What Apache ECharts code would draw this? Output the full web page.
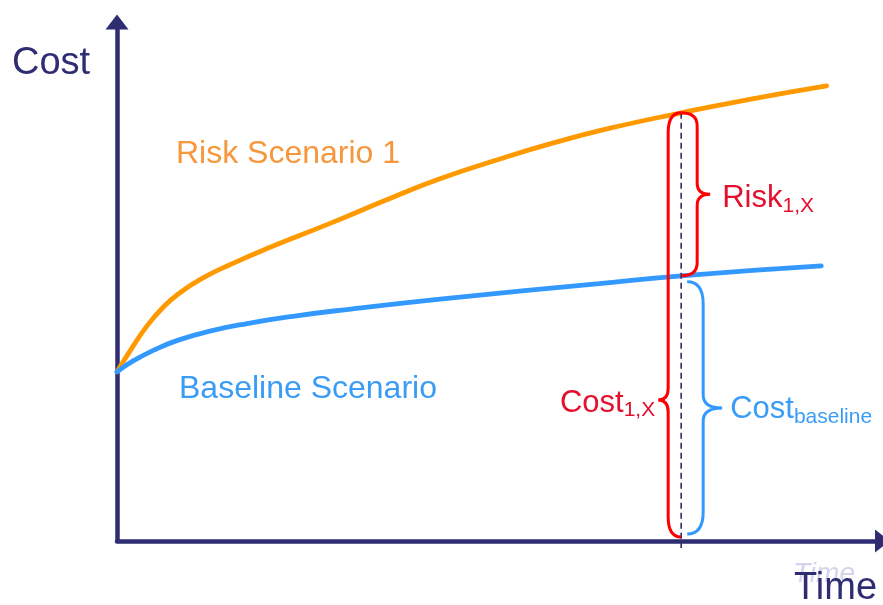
<!DOCTYPE html>
<html><head><meta charset="utf-8">
<script src="https://cdn.jsdelivr.net/npm/echarts@6/dist/echarts.min.js"></script>
<style>html,body{margin:0;padding:0;background:#fff}#c{width:883px;height:605px}</style>
</head><body><div id="c"></div>
<script>
// ---- data (time units 0..100, cost units 0..100) ----
const riskTime = [0, 2, 4, 6, 8, 11, 15, 20, 28, 35, 42, 50, 57, 64, 73.7, 83, 92.7];
const riskCost = [32.6, 37.3, 41.6, 45.0, 47.6, 50.5, 53.4, 56.6, 61.3, 65.6, 69.7, 73.6, 76.7, 79.4, 82.5, 85.2, 87.7];
const baseTime = [0, 2, 5, 8, 12, 17, 23, 30, 43.5, 63, 73.7, 92];
const baseCost = [32.6, 34.6, 36.9, 38.7, 40.4, 41.9, 43.3, 44.6, 46.8, 49.6, 51.1, 53.0];
const markTime = 73.7;
const riskAtMark = 82.5;
const baselineAtMark = 51.1;
const seriesNames = ['Risk Scenario 1', 'Baseline Scenario'];
const axisNames = ['Time', 'Cost'];

// ---- styles ----
const NAVY = '#2e2d72', ORANGE = '#ff9900', BLUE = '#3399ff';
const ORANGE_TXT = '#f7963a', BLUE_TXT = '#3a9cf5', RED = '#ff0000', RED_TXT = '#e5102e';
const FONT = '"Liberation Sans", Arial, sans-serif';

function pairs(xs, ys) { return xs.map((x, i) => [x, ys[i]]); }

function bracePath(xBase, yTop, yBot, dir, tipOff, stemOff, pointOff, yPoint, rEnd, rMid) {
  const xt = xBase + dir * tipOff, xs = xBase + dir * stemOff, xp = xBase + dir * pointOff;
  return `M${xt},${yTop} Q${xs},${yTop} ${xs},${yTop + rEnd} L${xs},${yPoint - rMid} ` +
    `Q${xs},${yPoint} ${xp},${yPoint} Q${xs},${yPoint} ${xs},${yPoint + rMid} ` +
    `L${xs},${yBot - rEnd} Q${xs},${yBot} ${xt},${yBot}`;
}

function subText(main, sub, color, x, y, align) {
  return {
    type: 'text', x: x, y: y,
    style: {
      text: '{a|' + main + '}{b|' + sub + '}',
      align: align, verticalAlign: 'middle', textAlign: align, textVerticalAlign: 'middle',
      fill: color,
      rich: {
        a: { fontSize: 31, fontFamily: FONT, lineHeight: 36, verticalAlign: 'middle', fill: color, color: color },
        b: { fontSize: 21, fontFamily: FONT, lineHeight: 36, verticalAlign: 'bottom', fill: color, color: color }
      }
    }
  };
}

function renderAnnotations(params, api) {
  const pTop = api.coord([markTime, riskAtMark]);
  const pMid = api.coord([markTime, baselineAtMark]);
  const pBot = api.coord([markTime, 0]);
  const x = pTop[0], yR = pTop[1], yB = pMid[1], y0 = pBot[1];

  const bigTop = yR, bigBot = y0 - 4;
  const bigPt = bigTop + 0.677 * (bigBot - bigTop);
  const smPt = (yR + yB) / 2;
  const blTop = yB + 6, blBot = y0 - 7, blPt = (blTop + blBot) / 2;

  return {
    type: 'group',
    children: [
      { type: 'line', shape: { x1: x, y1: yR, x2: x, y2: y0 + 7 },
        style: { stroke: NAVY, lineWidth: 1.6, lineDash: [6, 4] } },
      { type: 'path', shape: { pathData: bracePath(x, bigTop, bigBot, -1, 0, 13, 23, bigPt, 20, 12) },
        style: { stroke: RED, lineWidth: 3, fill: null } },
      { type: 'path', shape: { pathData: bracePath(x, yR, yB, 1, 0, 16, 29, smPt, 13, 11) },
        style: { stroke: RED, lineWidth: 3, fill: null } },
      { type: 'path', shape: { pathData: bracePath(x, blTop, blBot, 1, 6, 22, 41, blPt, 22, 13) },
        style: { stroke: BLUE, lineWidth: 3, fill: null } },
      subText('Risk', '1,X', RED_TXT, x + 41, smPt + 4, 'left'),
      subText('Cost', '1,X', RED_TXT, x - 26, bigPt + 3, 'right'),
      subText('Cost', 'baseline', BLUE_TXT, x + 49, blPt + 2, 'left')
    ]
  };
}

const chart = echarts.init(document.getElementById('c'), null, { renderer: 'canvas' });
const axisCommon = {
  type: 'value', min: 0, max: 100,
  axisLine: { show: true, symbol: ['none', 'triangle'], symbolSize: [23, 15], lineStyle: { color: NAVY, width: 4.5 } },
  axisTick: { show: false }, axisLabel: { show: false }, splitLine: { show: false }
};
chart.setOption({
  animation: false,
  backgroundColor: '#ffffff',
  grid: { left: 117, top: 22, right: 0.5, bottom: 64, containLabel: false },
  xAxis: Object.assign({}, axisCommon),
  yAxis: Object.assign({}, axisCommon),
  series: [
    { name: seriesNames[0], type: 'line', data: pairs(riskTime, riskCost), smooth: 0.5, showSymbol: false,
      lineStyle: { color: ORANGE, width: 4.8, cap: 'round' }, z: 3 },
    { name: seriesNames[1], type: 'line', data: pairs(baseTime, baseCost), smooth: 0.5, showSymbol: false,
      lineStyle: { color: BLUE, width: 4.8, cap: 'round' }, z: 3 },
    { type: 'custom', coordinateSystem: 'cartesian2d', data: [[markTime, riskAtMark]],
      renderItem: renderAnnotations, clip: false, silent: true, z: 4 }
  ],
  graphic: [
    { type: 'text', x: 12, y: 64, style: { text: axisNames[1], font: '38px ' + FONT, fill: NAVY,
      textAlign: 'left', textVerticalAlign: 'middle', align: 'left', verticalAlign: 'middle' } },
    { type: 'text', x: 793, y: 574, style: { text: axisNames[0], font: 'italic 28px ' + FONT, fill: '#d4d4ec',
      textAlign: 'left', textVerticalAlign: 'middle', align: 'left', verticalAlign: 'middle' } },
    { type: 'text', x: 794, y: 589, style: { text: axisNames[0], font: '38px ' + FONT, fill: NAVY,
      textAlign: 'left', textVerticalAlign: 'middle', align: 'left', verticalAlign: 'middle' } },
    { type: 'text', x: 176, y: 154, style: { text: seriesNames[0], font: '32px ' + FONT, fill: ORANGE_TXT,
      textAlign: 'left', textVerticalAlign: 'middle', align: 'left', verticalAlign: 'middle' } },
    { type: 'text', x: 179, y: 389, style: { text: seriesNames[1], font: '32px ' + FONT, fill: BLUE_TXT,
      textAlign: 'left', textVerticalAlign: 'middle', align: 'left', verticalAlign: 'middle' } }
  ]
});
</script>
</body></html>
